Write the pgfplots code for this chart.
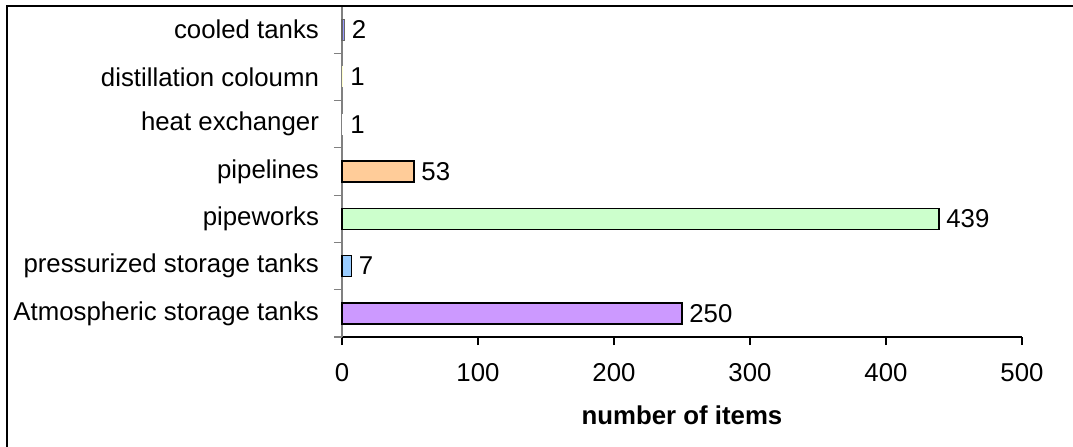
\documentclass[border=0pt]{standalone}
\usepackage{pgfplots}
\pgfplotsset{compat=1.18}
\usepackage{fontspec}
\setmainfont{Liberation Sans}
\definecolor{cCooled}{HTML}{9999FF}
\definecolor{cDist}{HTML}{FFFFCC}
\definecolor{cHeat}{HTML}{FFFFFF}
\definecolor{cPipelines}{HTML}{FFCC99}
\definecolor{cPipeworks}{HTML}{CCFFCC}
\definecolor{cPress}{HTML}{99CCFF}
\definecolor{cAtmo}{HTML}{CC99FF}
\newcommand{\lblfont}{\fontsize{12.9}{15}\selectfont}
\begin{document}
\begin{tikzpicture}
\begin{axis}[
  at={(0,0)}, anchor=south west,
  scale only axis, width=340pt, height=165.5pt,
  xbar, bar width=10.5pt, bar shift=0pt,
  xmin=0, xmax=500, ymin=-0.5, ymax=6.5,
  axis x line*=bottom, axis y line*=left,
  x axis line style={black,-, line width=0.6pt},
  y axis line style={gray,-, line width=0.6pt},
  tick align=outside, major tick length=4pt,
  xtick={0,100,200,300,400,500},
  xtick style={black, line width=0.6pt},
  ytick style={gray, line width=0.6pt},
  ytick={-0.5,0.5,1.5,2.5,3.5,4.5,5.5,6.5},
  y tick label as interval,
  yticklabels={Atmospheric storage tanks, pressurized storage tanks, pipeworks, pipelines, heat exchanger, distillation coloumn, cooled tanks},
  tick label style={font=\lblfont},
  yticklabel style={xshift=-4pt},
  xticklabel style={yshift=-5.5pt},
  /pgf/number format/assume math mode=true,
  xlabel={\textbf{number of items}},
  xlabel style={at={(axis description cs:0.5,0)}, anchor=center, yshift=-39pt, font=\lblfont},
  nodes near coords,
  every node near coord/.append style={anchor=west, font=\lblfont, black},
  clip=false,
]
\addplot[fill=cAtmo, draw=black, line width=0.7pt] coordinates {(250,0)};
\addplot[fill=cPress, draw=black, line width=0.7pt] coordinates {(7,1)};
\addplot[fill=cPipeworks, draw=black, line width=0.7pt] coordinates {(439,2)};
\addplot[fill=cPipelines, draw=black, line width=0.7pt] coordinates {(53,3)};
\addplot[fill=cHeat, draw=none] coordinates {(1,4)};
\addplot[fill=cDist, draw=none] coordinates {(1,5)};
\addplot[fill=cCooled, draw=black!60, line width=0.6pt] coordinates {(2,6)};
\end{axis}
\draw[black, line width=0.75pt] (-167.5pt,-60pt) -- (-167.5pt,165.5pt) -- (370pt,165.5pt);
\pgfresetboundingbox
\path[use as bounding box] (-171pt,-54.5pt) rectangle (365.5pt,168.5pt);
\end{tikzpicture}
\end{document}
